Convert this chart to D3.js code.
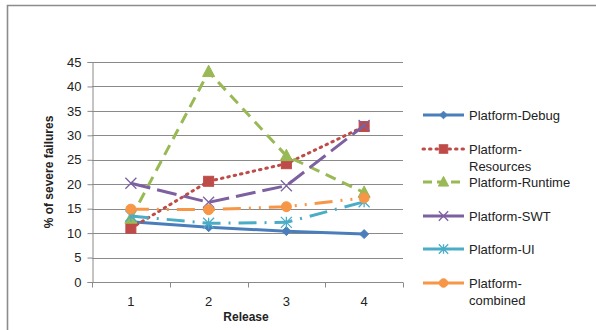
<!DOCTYPE html>
<html>
<head>
<meta charset="utf-8">
<script src="https://cdn.jsdelivr.net/npm/d3@7"></script>
<style>
  html, body { margin: 0; padding: 0; background: #fff; }
  svg { display: block; }
  text { font-family: "Liberation Sans", Arial, sans-serif; }
</style>
</head>
<body>
<svg id="chart" width="596" height="330"></svg>
<script>
// Releases on the x axis
const releases = ["1", "2", "3", "4"];
const yTicks = [0, 5, 10, 15, 20, 25, 30, 35, 40, 45];

// % of severe failures per component and release
const platformDebug     = [12.3, 11.2, 10.4, 9.8];
const platformResources = [11.0, 20.6, 24.2, 31.8];
const platformRuntime   = [13.0, 43.0, 25.8, 18.3];
const platformSWT       = [20.2, 16.3, 19.7, 32.0];
const platformUI        = [13.5, 12.0, 12.2, 16.4];
const platformCombined  = [14.9, 14.8, 15.4, 17.2];

const seriesNames = ["Platform-Debug", "Platform-Resources", "Platform-Runtime",
                     "Platform-SWT", "Platform-UI", "Platform-combined"];
const seriesValues = [platformDebug, platformResources, platformRuntime,
                      platformSWT, platformUI, platformCombined];

const styles = [
  { color: "#4a7ebb", dash: null,            marker: "diamond" },
  { color: "#be4b48", dash: "1.5,5",         marker: "square"  },
  { color: "#98b954", dash: "11,7",          marker: "triangle"},
  { color: "#7d60a0", dash: "20,7",          marker: "cross"   },
  { color: "#4bacc6", dash: "18,8,2,8",      marker: "star"    },
  { color: "#f79646", dash: "18,8,2,8,2,8",  marker: "circle"  }
];
// legend label lines (wrapped like the original legend)
const legendLines = [["Platform-Debug"], ["Platform-", "Resources"], ["Platform-Runtime"],
                     ["Platform-SWT"], ["Platform-UI"], ["Platform-", "combined"]];

const svg = d3.select("#chart");

// outer frame (top and left edges visible)
svg.append("path")
  .attr("d", "M7.5,330 V5.5 H596")
  .attr("fill", "none").attr("stroke", "#8c8c8c").attr("stroke-width", 1.6);

const plot = { left: 92, right: 403, top: 62, bottom: 282 };

const x = d3.scaleBand().domain(releases).range([plot.left, plot.right]).paddingInner(0).paddingOuter(0);
const y = d3.scaleLinear().domain([0, 45]).range([plot.bottom, plot.top]);

// horizontal gridlines
svg.append("g").selectAll("line").data(yTicks.filter(d => d > 0)).join("line")
  .attr("x1", plot.left).attr("x2", plot.right)
  .attr("y1", d => Math.round(y(d)) + 0.5).attr("y2", d => Math.round(y(d)) + 0.5)
  .attr("stroke", "#8a8a8a").attr("stroke-width", 1);

// y axis
const yAxis = svg.append("g").attr("transform", `translate(${plot.left + 0.5},0)`)
  .call(d3.axisLeft(y).tickValues(yTicks).tickSize(5).tickPadding(6));
yAxis.select(".domain").attr("stroke", "#8a8a8a");
yAxis.selectAll(".tick line").attr("stroke", "#8a8a8a");
yAxis.selectAll(".tick text").attr("font-size", 13).attr("fill", "#222")
  .attr("font-family", "Liberation Sans, Arial, sans-serif");

// x axis: ticks sit between categories
const xAxisG = svg.append("g").attr("transform", `translate(0,${Math.round(plot.bottom) + 0.5})`);
xAxisG.append("line").attr("x1", plot.left).attr("x2", plot.right).attr("stroke", "#8a8a8a");
const boundaries = releases.map(r => x(r)).concat([plot.right]);
xAxisG.selectAll("line.tk").data(boundaries).join("line").attr("class", "tk")
  .attr("x1", d => Math.round(d) + 0.5).attr("x2", d => Math.round(d) + 0.5)
  .attr("y1", 0).attr("y2", 5).attr("stroke", "#8a8a8a");
xAxisG.selectAll("text").data(releases).join("text")
  .attr("x", d => x(d) + x.bandwidth() / 2).attr("y", 23)
  .attr("text-anchor", "middle").attr("font-size", 13).attr("fill", "#222")
  .text(d => d);

// axis titles
svg.append("text").attr("x", 246).attr("y", 321).attr("text-anchor", "middle")
  .attr("font-size", 12).attr("font-weight", "bold").attr("fill", "#222").text("Release");
svg.append("text").attr("transform", "translate(53,172) rotate(-90)").attr("text-anchor", "middle")
  .attr("font-size", 12).attr("font-weight", "bold").attr("fill", "#222").text("% of severe failures");

// marker drawing
function drawMarker(g, type, color, cx, cy, s) {
  if (type === "diamond") {
    g.append("path").attr("d", `M${cx},${cy - s} L${cx + s},${cy} L${cx},${cy + s} L${cx - s},${cy} Z`)
      .attr("fill", color).attr("stroke", color);
  } else if (type === "square") {
    g.append("rect").attr("x", cx - s).attr("y", cy - s).attr("width", 2 * s).attr("height", 2 * s)
      .attr("fill", color).attr("stroke", color);
  } else if (type === "triangle") {
    g.append("path").attr("d", `M${cx},${cy - s * 1.1} L${cx + s},${cy + s * 0.8} L${cx - s},${cy + s * 0.8} Z`)
      .attr("fill", color).attr("stroke", color);
  } else if (type === "cross") {
    g.append("path").attr("d", `M${cx - s},${cy - s} L${cx + s},${cy + s} M${cx - s},${cy + s} L${cx + s},${cy - s}`)
      .attr("stroke", color).attr("stroke-width", 1.3).attr("fill", "none");
  } else if (type === "star") {
    g.append("path").attr("d", `M${cx - s},${cy - s} L${cx + s},${cy + s} M${cx - s},${cy + s} L${cx + s},${cy - s} M${cx},${cy - s} L${cx},${cy + s}`)
      .attr("stroke", color).attr("stroke-width", 1.3).attr("fill", "none");
  } else if (type === "circle") {
    g.append("circle").attr("cx", cx).attr("cy", cy).attr("r", s).attr("fill", color).attr("stroke", color);
  }
}
const markerSize = { diamond: 4.5, square: 5, triangle: 6, cross: 5.5, star: 5.5, circle: 5 };

// series lines and markers
const line = d3.line().x((d, i) => x(releases[i]) + x.bandwidth() / 2).y(d => y(d));
const seriesG = svg.append("g");
seriesValues.forEach((vals, k) => {
  const st = styles[k];
  const g = seriesG.append("g");
  g.append("path").datum(vals).attr("d", line)
    .attr("fill", "none").attr("stroke", st.color).attr("stroke-width", 3)
    .attr("stroke-dasharray", st.dash).attr("stroke-linecap", st.dash === "1.5,5" ? "round" : "butt")
    .attr("stroke-linejoin", "round");
  vals.forEach((v, i) => {
    drawMarker(g, st.marker, st.color, x(releases[i]) + x.bandwidth() / 2, y(v), markerSize[st.marker]);
  });
});

// legend
const legendY = [115, 149, 182, 216, 249, 283];
const legend = svg.append("g");
seriesNames.forEach((name, k) => {
  const st = styles[k];
  const g = legend.append("g");
  const ly = legendY[k];
  const legendDash = k === 1 ? "1.5,5" : (k === 2 ? "9,5" : null);
  g.append("line").attr("x1", 423).attr("x2", 464).attr("y1", ly).attr("y2", ly)
    .attr("stroke", st.color).attr("stroke-width", 3)
    .attr("stroke-dasharray", legendDash).attr("stroke-linecap", k === 1 ? "round" : "butt");
  drawMarker(g, st.marker, st.color, 443.5, ly, markerSize[st.marker] * 0.85);
  legendLines[k].forEach((t, j) => {
    g.append("text").attr("x", 469).attr("y", ly + 4.5 + j * 17)
      .attr("font-size", 13).attr("fill", "#222").text(t);
  });
});
</script>
</body>
</html>
